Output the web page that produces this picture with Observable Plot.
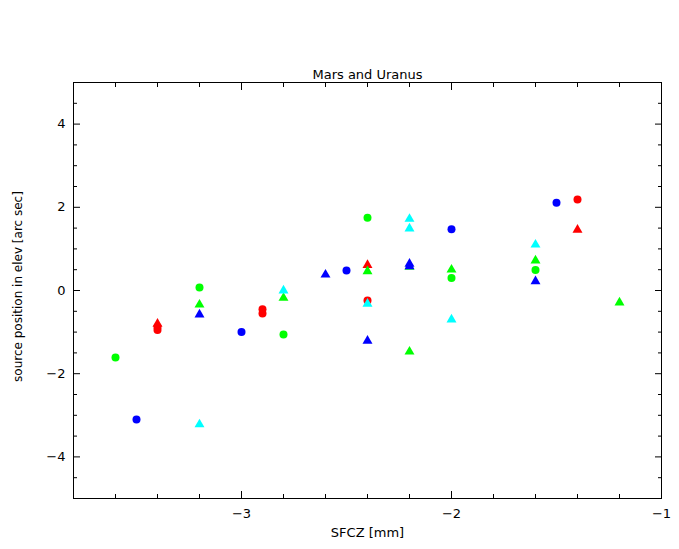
<!DOCTYPE html>
<html>
<head>
<meta charset="utf-8">
<script src="https://cdn.jsdelivr.net/npm/d3@7"></script>
<script src="https://cdn.jsdelivr.net/npm/@observablehq/plot@0.6"></script>
<style>
  html, body { margin: 0; padding: 0; background: #fff; }
  svg { display: block; }
</style>
</head>
<body>
<div id="chart"></div>
<script>
const title = "Mars and Uranus";
const xLabel = "SFCZ [mm]";
const yLabel = "source position in elev [arc sec]";

const xMajorTicks = [-3, -2, -1];
const xMinorTicks = [-3.6, -3.4, -3.2, -2.8, -2.6, -2.4, -2.2, -1.8, -1.6, -1.4, -1.2];
const yMajorTicks = [-4, -2, 0, 2, 4];
const yMinorTicks = [-4.5, -3.5, -3, -2.5, -1.5, -1, -0.5, 0.5, 1, 1.5, 2.5, 3, 3.5, 4.5];

// series: colour + marker shape
const redCircleX = [-3.4, -3.4, -2.9, -2.9, -2.4, -1.4];
const redCircleY = [-0.88, -0.95, -0.45, -0.55, -0.24, 2.19];
const redTriangleX = [-3.4, -2.4, -1.4];
const redTriangleY = [-0.80, 0.61, 1.46];
const greenCircleX = [-3.6, -3.2, -2.8, -2.4, -2.0, -1.6];
const greenCircleY = [-1.61, 0.07, -1.06, 1.75, 0.30, 0.49];
const greenTriangleX = [-3.2, -2.8, -2.4, -2.2, -2.2, -2.0, -1.6, -1.2];
const greenTriangleY = [-0.34, -0.18, 0.46, 0.57, -1.47, 0.50, 0.72, -0.29];
const blueCircleX = [-3.5, -3.0, -2.5, -2.0, -1.5];
const blueCircleY = [-3.10, -1.00, 0.48, 1.47, 2.11];
const blueTriangleX = [-3.2, -2.6, -2.4, -2.2, -2.2, -1.6];
const blueTriangleY = [-0.58, 0.38, -1.21, 0.64, 0.58, 0.22];
const cyanTriangleX = [-3.2, -2.8, -2.4, -2.2, -2.2, -2.0, -1.6];
const cyanTriangleY = [-3.22, 0.00, -0.32, 1.72, 1.49, -0.70, 1.10];

const series = [
  {x: redCircleX, y: redCircleY, color: "#ff0000", shape: "circle"},
  {x: redTriangleX, y: redTriangleY, color: "#ff0000", shape: "triangle"},
  {x: greenCircleX, y: greenCircleY, color: "#00ff00", shape: "circle"},
  {x: greenTriangleX, y: greenTriangleY, color: "#00ff00", shape: "triangle"},
  {x: blueCircleX, y: blueCircleY, color: "#0000ff", shape: "circle"},
  {x: blueTriangleX, y: blueTriangleY, color: "#0000ff", shape: "triangle"},
  {x: cyanTriangleX, y: cyanTriangleY, color: "#00ffff", shape: "triangle"}
];

const font = "DejaVu Sans, sans-serif";
const fmt = d => String(d).replace("-", "\u2212");

const dotMarks = series.map(s => Plot.dot(
  s.x.map((x, i) => ({x, y: s.y[i]})),
  {x: "x", y: "y", fill: s.color, stroke: null, symbol: s.shape, r: s.shape === "circle" ? 4 : 3.7}
));

const chart = Plot.plot({
  width: 679,
  height: 549,
  marginLeft: 73,
  marginRight: 18,
  marginTop: 82,
  marginBottom: 51,
  style: {fontFamily: font, fontSize: "12px", color: "#000", background: "#fff"},
  x: {domain: [-3.8, -1], label: null},
  y: {domain: [-5, 5], label: null},
  marks: [
    Plot.frame({stroke: "#000", strokeWidth: 1}),
    // tick labels
    Plot.axisX(xMajorTicks, {anchor: "bottom", tickSize: 0, tickPadding: 10, label: null, fontSize: 13, tickFormat: fmt}),
    Plot.axisY(yMajorTicks, {anchor: "left", tickSize: 0, tickPadding: 8, label: null, fontSize: 13, tickFormat: fmt}),
    // inward ticks on all four sides
    Plot.axisX(xMajorTicks, {anchor: "bottom", tickSize: -7, text: null, label: null}),
    Plot.axisX(xMajorTicks, {anchor: "top", tickSize: -7, text: null, label: null}),
    Plot.axisX(xMinorTicks, {anchor: "bottom", tickSize: -4, text: null, label: null}),
    Plot.axisX(xMinorTicks, {anchor: "top", tickSize: -4, text: null, label: null}),
    Plot.axisY(yMajorTicks, {anchor: "left", tickSize: -7, text: null, label: null}),
    Plot.axisY(yMajorTicks, {anchor: "right", tickSize: -7, text: null, label: null}),
    Plot.axisY(yMinorTicks, {anchor: "left", tickSize: -4, text: null, label: null}),
    Plot.axisY(yMinorTicks, {anchor: "right", tickSize: -4, text: null, label: null}),
    ...dotMarks,
    Plot.text([title], {frameAnchor: "top", dy: -13, fontSize: 13, fill: "#000"}),
    Plot.text([xLabel], {frameAnchor: "bottom", dy: 38, fontSize: 13, fill: "#000"}),
    Plot.text([yLabel], {frameAnchor: "left", textAnchor: "middle", dx: -55, dy: -4, rotate: -90, fontSize: 12, fill: "#000"})
  ]
});

document.getElementById("chart").appendChild(chart);
</script>
</body>
</html>
